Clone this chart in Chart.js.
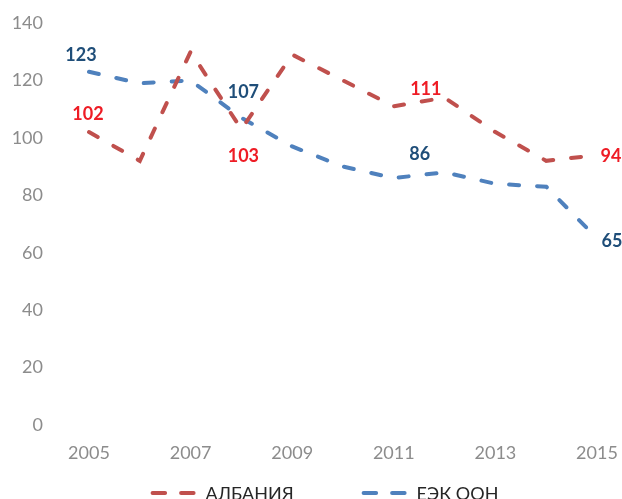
<!DOCTYPE html>
<html>
<head>
<meta charset="utf-8">
<script src="https://cdn.jsdelivr.net/npm/chart.js@4/dist/chart.umd.min.js"></script>
<style>
  html, body { margin: 0; padding: 0; background: #ffffff; }
  #wrap { width: 622px; height: 499px; }
</style>
</head>
<body>
<div id="wrap"><canvas id="c" width="622" height="499"></canvas></div>
<script>
// ---- data ----
const years = ['2005','2006','2007','2008','2009','2010','2011','2012','2013','2014','2015'];
const albania = [102, 92, 130, 103, 129, 120, 111, 114, 102, 92, 94];
const unece   = [123, 119, 120, 107, 97, 90, 86, 88, 84, 83, 65];
const seriesNames = ['АЛБАНИЯ', 'ЕЭК ООН'];
const yTicks = [0, 20, 40, 60, 80, 100, 120, 140];

// indices of points that carry a value label
const albaniaLabelIdx = [0, 3, 6, 10];
const uneceLabelIdx   = [0, 3, 6, 10];

// ---- styles ----
const RED_LINE = '#C0504D';
const BLUE_LINE = '#4F81BD';
const RED_TEXT = '#EE1C25';
const BLUE_TEXT = '#1F4E79';
const TICK = '#8C8C8C';
const FONT = 'Lato, "Open Sans", "DejaVu Sans", sans-serif';

// label offsets (pixels) for the points above, in the same order
const labelOffsets = [
  [[-1, -18], [2, 27], [32, -17], [14, 1]],
  [[-8, -17], [2, -26], [26, -24], [15, 3]]
];
const labelIdx = [albaniaLabelIdx, uneceLabelIdx];
const labelColors = [RED_TEXT, BLUE_TEXT];

const valueLabels = {
  id: 'valueLabels',
  afterDatasetsDraw(chart) {
    const ctx = chart.ctx;
    ctx.save();
    ctx.font = 'bold 18px ' + FONT;
    ctx.textAlign = 'center';
    ctx.textBaseline = 'middle';
    chart.data.datasets.forEach((ds, di) => {
      const meta = chart.getDatasetMeta(di);
      ctx.fillStyle = labelColors[di];
      labelIdx[di].forEach((idx, k) => {
        const pt = meta.data[idx];
        const off = labelOffsets[di][k];
        ctx.fillText(String(ds.data[idx]), pt.x + off[0], pt.y + off[1]);
      });
    });
    ctx.restore();
  }
};

const customLegend = {
  id: 'customLegend',
  afterDraw(chart) {
    const ctx = chart.ctx;
    ctx.save();
    ctx.font = '18px ' + FONT;
    ctx.textBaseline = 'middle';
    ctx.textAlign = 'left';
    const y = 493;
    const sampleW = 41, capPad = 2, textGap = 10, itemGap = 68;
    const items = chart.data.datasets.map(ds => ({
      text: ds.label, color: ds.borderColor, w: sampleW + capPad * 2 + textGap + ctx.measureText(ds.label).width
    }));
    const total = items.reduce((s, it) => s + it.w, 0) + itemGap * (items.length - 1);
    let x = 324.5 - total / 2;
    items.forEach(it => {
      ctx.strokeStyle = it.color;
      ctx.lineWidth = 4;
      ctx.lineCap = 'round';
      ctx.setLineDash([12.5, 16]);
      ctx.beginPath();
      ctx.moveTo(x + capPad, y);
      ctx.lineTo(x + capPad + sampleW, y);
      ctx.stroke();
      ctx.setLineDash([]);
      ctx.fillStyle = '#262626';
      ctx.fillText(it.text, x + capPad * 2 + sampleW + textGap, y + 1);
      x += it.w + itemGap;
    });
    ctx.restore();
  }
};

new Chart(document.getElementById('c'), {
  type: 'line',
  data: {
    labels: years,
    datasets: [
      { label: seriesNames[0], data: albania, borderColor: RED_LINE, backgroundColor: RED_LINE,
        borderWidth: 4, borderDash: [10, 18], borderCapStyle: 'round', pointRadius: 0, tension: 0, fill: false },
      { label: seriesNames[1], data: unece, borderColor: BLUE_LINE, backgroundColor: BLUE_LINE,
        borderWidth: 4, borderDash: [10, 18], borderCapStyle: 'round', pointRadius: 0, tension: 0, fill: false }
    ]
  },
  options: {
    responsive: false,
    animation: false,
    devicePixelRatio: 1,
    layout: { padding: { top: 23, right: 25, bottom: 34, left: 0 } },
    plugins: { legend: { display: false }, tooltip: { enabled: false }, title: { display: false } },
    scales: {
      x: {
        offset: false,
        grid: { display: false, drawTicks: false },
        border: { display: false },
        ticks: {
          autoSkip: false, maxRotation: 0, minRotation: 0, padding: 17,
          color: TICK, font: { family: FONT, size: 18 },
          callback: (v, i) => (i % 2 === 0 ? years[i] : null)
        },
        afterFit: s => { s.height = 40; s.paddingLeft = 0; s.paddingRight = 0; }
      },
      y: {
        min: yTicks[0], max: yTicks[yTicks.length - 1],
        grid: { display: false, drawTicks: false },
        border: { display: false },
        afterBuildTicks: s => { s.ticks = yTicks.map(v => ({ value: v })); },
        ticks: { padding: 46, color: TICK, font: { family: FONT, size: 18 } },
        afterFit: s => { s.width = 89; s.paddingTop = 0; s.paddingBottom = 0; }
      }
    }
  },
  plugins: [valueLabels, customLegend]
});
</script>
</body>
</html>
